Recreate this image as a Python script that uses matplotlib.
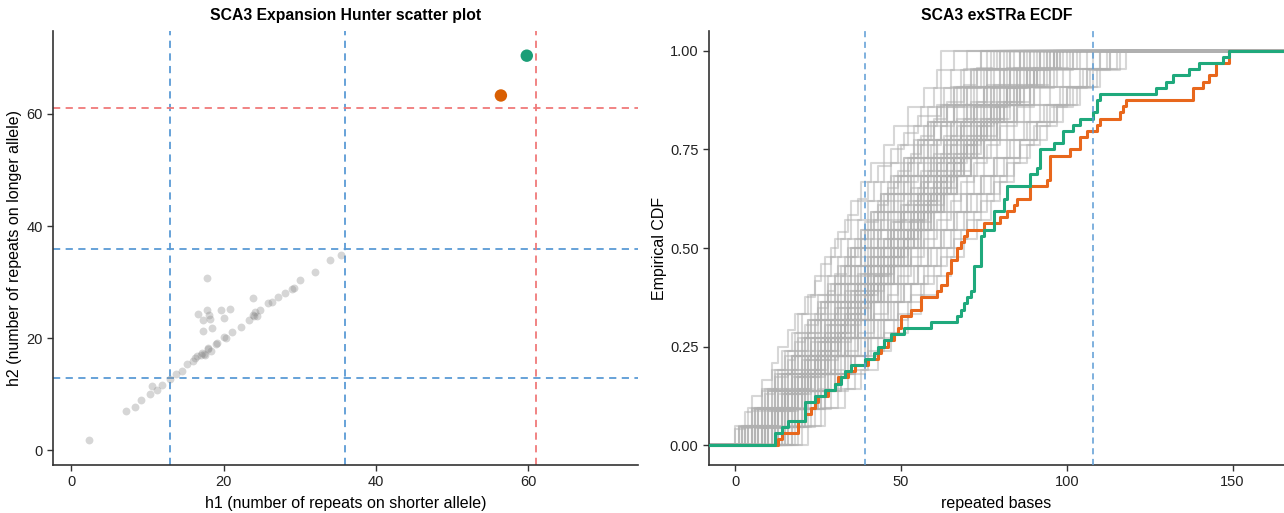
import numpy as np
import matplotlib
matplotlib.use("Agg")
import matplotlib.pyplot as plt

plt.rcParams['font.family'] = ['Liberation Sans', 'DejaVu Sans']

# ---- left panel: Expansion Hunter genotypes (h1, h2) ----
h1_ctrl = [2.3, 7.2, 8.3, 9.1, 10.3, 10.6, 11.2, 11.9, 13.0, 13.8, 14.5, 15.2, 16.0, 16.3,
           16.5, 17.0, 17.1, 17.4, 17.5, 18.0, 18.0, 18.4, 19.0, 19.1, 20.0, 20.3, 21.1, 22.3,
           23.3, 23.8, 24.0, 24.1, 24.4, 24.8, 25.8, 26.3, 27.1, 28.0, 29.0, 29.3, 30.0,
           32.0, 33.9, 35.4,
           17.8, 16.7, 17.8, 18.1, 18.2, 17.3, 19.6, 20.9, 20.0, 17.3, 18.5, 23.9]
h2_ctrl = [1.8, 7.0, 7.7, 9.0, 10.0, 11.4, 10.7, 11.6, 12.8, 13.6, 14.2, 15.5, 16.0, 16.4,
           16.8, 17.0, 17.4, 17.2, 17.0, 18.3, 18.0, 17.8, 19.0, 19.2, 20.2, 20.0, 21.1, 22.0,
           23.3, 24.2, 24.0, 24.6, 24.0, 25.0, 26.3, 26.4, 27.3, 28.0, 28.7, 29.0, 30.4,
           31.8, 34.0, 34.8,
           30.8, 24.4, 25.0, 24.1, 23.5, 23.3, 25.0, 25.3, 23.7, 21.3, 21.9, 27.2]
h1_cases = [56.4, 59.8]
h2_cases = [63.3, 70.4]
case_colors = ['#d95f02', '#1b9e77']
normal_max = 13
premut_min = 36
patho_min = 61

# ---- right panel: exSTRa repeated bases per read, one list per control sample ----
gray_samples = [
    [0, 3, 5, 8, 11, 13, 16, 18, 21, 24, 26, 29, 31, 34, 37, 40, 43, 47, 51, 55, 62, 62, 62, 62],
    [1, 4, 9, 11, 14, 17, 19, 22, 24, 27, 30, 33, 35, 38, 41, 45, 48, 52, 57, 61, 66],
    [2, 6, 8, 12, 15, 18, 20, 23, 27, 29, 32, 35, 38, 42, 45, 49, 52, 56, 60, 65, 70],
    [0, 5, 10, 13, 16, 19, 23, 25, 28, 31, 34, 37, 40, 44, 47, 50, 54, 58, 63, 68, 74],
    [3, 7, 11, 14, 18, 20, 24, 27, 30, 33, 37, 40, 43, 46, 50, 54, 57, 61, 66, 71, 77],
    [4, 9, 12, 16, 19, 22, 26, 28, 32, 35, 38, 42, 45, 48, 52, 56, 60, 64, 69, 74, 80],
    [1, 6, 13, 17, 21, 24, 27, 30, 33, 36, 39, 43, 46, 49, 53, 57, 61, 65, 70, 75, 81, 86],
    [5, 10, 14, 17, 20, 24, 28, 31, 34, 38, 41, 44, 48, 51, 55, 59, 62, 66, 71, 76, 82],
    [6, 11, 15, 19, 22, 26, 29, 32, 36, 39, 42, 46, 50, 53, 57, 60, 64, 68, 72, 77, 83, 88],
    [7, 12, 16, 20, 24, 27, 31, 34, 37, 41, 44, 48, 51, 55, 58, 62, 66, 70, 74, 79, 85, 90],
    [8, 13, 18, 21, 25, 29, 32, 35, 39, 42, 46, 49, 53, 56, 60, 64, 67, 71, 76, 81, 86, 92],
    [9, 14, 17, 22, 26, 30, 33, 37, 40, 44, 47, 51, 54, 58, 61, 65, 69, 73, 77, 82, 88, 94],
    [10, 15, 19, 23, 27, 31, 35, 38, 42, 45, 49, 52, 56, 59, 63, 66, 70, 74, 79, 84, 90, 96],
    [11, 16, 21, 25, 28, 32, 36, 40, 43, 47, 50, 54, 57, 61, 64, 68, 72, 76, 80, 86, 91, 98],
    [6, 12, 17, 20, 25, 28, 33, 36, 40, 43, 47, 50, 54, 57, 61, 65, 68, 72, 77, 83, 89],
    [8, 11, 16, 21, 24, 29, 33, 36, 41, 44, 48, 52, 55, 59, 62, 66, 71, 75, 80, 85, 91, 97],
    [12, 17, 22, 26, 30, 34, 37, 41, 45, 48, 52, 55, 59, 62, 66, 69, 73, 78, 82, 87, 93, 100],
    [9, 13, 18, 23, 27, 30, 34, 39, 42, 46, 49, 53, 57, 60, 64, 68, 72, 75, 80, 85, 92],
    [13, 18, 23, 27, 31, 35, 39, 42, 46, 50, 53, 57, 60, 64, 67, 71, 75, 79, 84, 89, 95, 102],
    [7, 13, 19, 22, 26, 31, 35, 38, 42, 45, 50, 53, 57, 61, 64, 69, 73, 77, 82, 88, 95],
    [10, 14, 20, 24, 28, 32, 36, 39, 43, 47, 51, 55, 58, 62, 66, 70, 74, 78, 83, 89, 96],
    [5, 11, 15, 18, 23, 27, 30, 34, 38, 41, 45, 48, 52, 56, 59, 63, 67, 71, 75, 80, 86],
    [11, 15, 20, 24, 29, 33, 37, 41, 44, 48, 52, 56, 59, 63, 67, 71, 75, 80, 85, 90, 97, 104],
    [14, 19, 24, 28, 32, 36, 40, 44, 47, 51, 55, 58, 62, 66, 70, 73, 77, 82, 87, 92, 99, 106],
    [15, 20, 25, 30, 34, 38, 42, 46, 50, 54, 58, 62, 66, 70, 74, 78, 83, 88, 93, 99, 106, 112],
    [17, 22, 27, 32, 36, 41, 45, 49, 53, 57, 61, 65, 69, 73, 77, 81, 86, 91, 97, 103, 109, 115],
    [19, 24, 29, 34, 39, 43, 48, 52, 56, 60, 64, 68, 72, 76, 80, 84, 89, 94, 99, 104, 110, 118],
    [16, 21, 26, 31, 35, 40, 44, 48, 51, 55, 59, 63, 67, 71, 75, 79, 84, 89, 94, 100, 105, 110],
    [20, 26, 31, 36, 40, 45, 49, 53, 57, 62, 66, 70, 74, 78, 82, 86, 90, 95, 100, 106, 113],
    [22, 27, 33, 38, 43, 47, 52, 56, 61, 65, 69, 73, 77, 80, 84, 88, 92, 97, 102, 108, 116],
    [2, 5, 9, 12, 16, 18, 21, 25, 28, 30, 34, 36, 39, 43, 46, 49, 53, 56, 60, 64, 69, 73, 78],
    [4, 8, 10, 15, 17, 21, 23, 27, 30, 33, 35, 39, 42, 45, 49, 52, 55, 59, 63, 67, 72, 79],
    [3, 8, 12, 15, 19, 23, 26, 29, 31, 35, 38, 41, 44, 47, 51, 54, 58, 62, 66, 70, 76, 83],
    [6, 9, 13, 18, 20, 23, 27, 30, 33, 37, 40, 43, 47, 50, 53, 56, 60, 63, 67, 71, 76, 82, 87],
    [7, 10, 14, 17, 21, 25, 28, 31, 35, 38, 41, 45, 48, 51, 55, 58, 62, 65, 69, 73, 78, 84, 91],
    [8, 12, 15, 19, 22, 26, 30, 33, 36, 40, 43, 47, 50, 54, 57, 61, 64, 68, 72, 77, 82, 87, 93],
    [9, 12, 17, 20, 24, 27, 31, 34, 38, 41, 45, 48, 52, 55, 59, 62, 66, 70, 74, 79, 84, 90, 95],
    [10, 13, 16, 21, 23, 27, 30, 34, 37, 40, 44, 47, 51, 55, 58, 61, 65, 69, 73, 78, 83, 89],
    [11, 14, 18, 22, 26, 29, 32, 36, 40, 43, 47, 51, 54, 57, 61, 65, 68, 72, 76, 81, 87, 93, 99],
    [12, 16, 19, 23, 27, 31, 35, 38, 41, 45, 48, 52, 56, 59, 63, 67, 71, 74, 79, 83, 89, 95, 101],
    [5, 9, 14, 16, 20, 24, 27, 31, 34, 37, 41, 44, 47, 51, 54, 58, 61, 65, 69, 73, 78, 84],
    [3, 7, 11, 13, 17, 21, 24, 26, 30, 33, 36, 40, 43, 46, 50, 53, 57, 60, 64, 68, 73, 80],
    [13, 17, 21, 25, 29, 33, 36, 40, 44, 47, 51, 54, 58, 62, 65, 69, 73, 77, 81, 86, 92, 98],
    [14, 18, 22, 27, 30, 34, 38, 42, 45, 49, 53, 56, 60, 63, 67, 71, 75, 79, 84, 89, 94, 103],
    [15, 19, 24, 28, 33, 37, 41, 45, 49, 52, 56, 60, 64, 68, 72, 75, 79, 84, 89, 95, 101, 108],
    [8, 13, 16, 20, 24, 28, 32, 35, 39, 42, 45, 49, 53, 56, 60, 63, 67, 71, 75, 80, 86, 92],
    [6, 10, 15, 19, 22, 25, 29, 32, 35, 39, 42, 46, 49, 52, 56, 59, 63, 66, 70, 75, 80, 86],
    [10, 15, 18, 22, 25, 29, 33, 37, 41, 44, 48, 51, 55, 58, 62, 66, 69, 73, 77, 82, 88, 94],
    [4, 7, 12, 14, 18, 22, 25, 28, 32, 35, 38, 42, 45, 48, 52, 55, 58, 62, 66, 70, 75, 81],
    [2, 6, 10, 14, 17, 20, 22, 26, 29, 32, 35, 38, 41, 44, 48, 51, 55, 58, 62, 66, 71, 76],
    [12, 18, 21, 26, 30, 33, 37, 41, 44, 48, 51, 55, 58, 62, 65, 69, 73, 77, 81, 86, 91, 97],
    [16, 20, 25, 29, 33, 37, 42, 46, 49, 53, 57, 61, 65, 68, 72, 76, 80, 85, 90, 96, 102],
    [18, 23, 27, 32, 36, 40, 45, 49, 53, 58, 62, 66, 70, 74, 78, 82, 86, 91, 96, 101, 107, 113],
    [9, 14, 19, 22, 26, 29, 33, 37, 40, 44, 48, 51, 55, 58, 62, 66, 70, 74, 78, 83, 89, 96],
    [7, 11, 15, 18, 22, 26, 29, 33, 36, 40, 43, 47, 50, 54, 57, 61, 64, 68, 72, 76, 81, 87],
    [11, 16, 20, 23, 27, 31, 34, 38, 42, 46, 49, 53, 56, 60, 64, 67, 71, 75, 80, 85, 90, 96],
    [1, 5, 8, 12, 15, 19, 22, 25, 28, 31, 34, 38, 41, 44, 47, 51, 54, 58, 61, 65, 69, 74],
    [13, 16, 20, 24, 28, 32, 36, 39, 43, 46, 50, 54, 57, 61, 64, 68, 72, 76, 80, 85, 90, 97],
    [5, 8, 13, 17, 21, 23, 26, 30, 33, 36, 40, 43, 46, 50, 53, 57, 60, 64, 67, 72, 77, 83],
    [17, 21, 26, 30, 35, 39, 43, 47, 51, 55, 58, 62, 66, 70, 74, 78, 82, 87, 92, 98, 104, 110],
]

orange_bases = [13, 14, 19, 21, 23, 24, 25, 28, 30, 31, 34, 36, 40, 43, 44, 46, 48, 49, 50, 53,
                56, 61, 62, 64, 65, 67, 68, 69, 70, 75, 80, 82, 84, 85, 89, 94, 95, 101, 104, 106,
                109, 110, 116, 117, 118, 138, 141, 143, 145, 149]
orange_counts = [1, 1, 2, 1, 1, 1, 1, 1, 1, 1, 1, 1, 1, 1, 1, 1, 1, 1, 2, 1,
                 2, 1, 1, 2, 2, 2, 1, 1, 1, 1, 1, 1, 1, 1, 2, 1, 4, 1, 2, 1,
                 1, 1, 1, 1, 1, 2, 1, 1, 2, 2]
green_bases = [12, 14, 16, 21, 24, 27, 30, 32, 33, 35, 39, 42, 43, 45, 47, 51, 59, 67, 68, 69,
               70, 71, 72, 74, 75, 78, 81, 82, 89, 91, 92, 96, 99, 102, 104, 108, 109, 110, 127, 130,
               132, 137, 140, 147, 149]
green_counts = [2, 1, 1, 3, 1, 1, 1, 1, 1, 1, 1, 1, 1, 1, 1, 1, 1, 1, 1, 1,
                1, 1, 4, 5, 1, 3, 2, 2, 2, 1, 3, 1, 2, 1, 1, 1, 2, 1, 1, 1,
                1, 1, 1, 1, 1]
bases_normal = 39
bases_patho = 108

blue = '#5b9bd5'
red = '#f07a7a'
dash = (4, 3)


def style(ax):
    for s in ['top', 'right']:
        ax.spines[s].set_visible(False)
    for s in ['left', 'bottom']:
        ax.spines[s].set_linewidth(1.2)
        ax.spines[s].set_color('#333333')
    ax.tick_params(length=4, width=1, colors='#333333', labelsize=10.5, labelcolor='#222222')


def ecdf_line(ax, bases, counts, xlo, xhi, **kw):
    bases = np.asarray(bases, float)
    cdf = np.cumsum(counts) / np.sum(counts)
    x = np.concatenate([[xlo], bases, [xhi]])
    y = np.concatenate([[0], cdf, [1]])
    ax.step(x, y, where='post', **kw)


fig = plt.figure(figsize=(12.84, 5.13), dpi=100)

# left scatter
ax1 = fig.add_axes([53 / 1284, 48 / 513, 585 / 1284, 434 / 513])
for v in [normal_max, premut_min]:
    ax1.axvline(v, color=blue, lw=1.3, dashes=dash, zorder=1)
    ax1.axhline(v, color=blue, lw=1.3, dashes=dash, zorder=1)
ax1.axvline(patho_min, color=red, lw=1.3, dashes=dash, zorder=1)
ax1.axhline(patho_min, color=red, lw=1.3, dashes=dash, zorder=1)
ax1.scatter(h1_ctrl, h2_ctrl, s=32, color='#8c8c8c', alpha=0.35, linewidths=0, zorder=2)
ax1.scatter(h1_cases, h2_cases, s=80, color=case_colors, linewidths=0, zorder=3)
ax1.set_xlim(-2.4, 74.4)
ax1.set_ylim(-2.6, 74.8)
ax1.set_xticks([0, 20, 40, 60])
ax1.set_yticks([0, 20, 40, 60])
ax1.set_xlabel('h1 (number of repeats on shorter allele)', fontsize=11.5, labelpad=5)
ax1.set_ylabel('h2 (number of repeats on longer allele)', fontsize=11.5, labelpad=3)
ax1.set_title('SCA3 Expansion Hunter scatter plot', fontsize=11.3, fontweight='bold', pad=8)
style(ax1)

# right ECDF
ax2 = fig.add_axes([709 / 1284, 48 / 513, 575 / 1284, 434 / 513])
xlo, xhi = -7.9, 165.5
for vals in gray_samples:
    u, c = np.unique(vals, return_counts=True)
    ecdf_line(ax2, u, c, xlo, xhi, color='#b0b0b0', alpha=0.5, lw=1.5, zorder=2)
ecdf_line(ax2, orange_bases, orange_counts, xlo, xhi, color='#e8671c', lw=2.2, zorder=3)
ecdf_line(ax2, green_bases, green_counts, xlo, xhi, color='#1fa97c', lw=2.2, zorder=4)
ax2.axvline(bases_normal, color=blue, lw=1.1, dashes=dash, zorder=5)
ax2.axvline(bases_patho, color=blue, lw=1.1, dashes=dash, zorder=5)
ax2.set_xlim(xlo, xhi)
ax2.set_ylim(-0.05, 1.05)
ax2.set_xticks([0, 50, 100, 150])
ax2.set_yticks([0, 0.25, 0.5, 0.75, 1.0])
ax2.set_yticklabels(['0.00', '0.25', '0.50', '0.75', '1.00'])
ax2.set_xlabel('repeated bases', fontsize=11.5, labelpad=5)
ax2.set_ylabel('Empirical CDF', fontsize=11.5, labelpad=2)
ax2.set_title('SCA3 exSTRa ECDF', fontsize=11.3, fontweight='bold', pad=8)
style(ax2)

fig.savefig('out.png', dpi=100)
